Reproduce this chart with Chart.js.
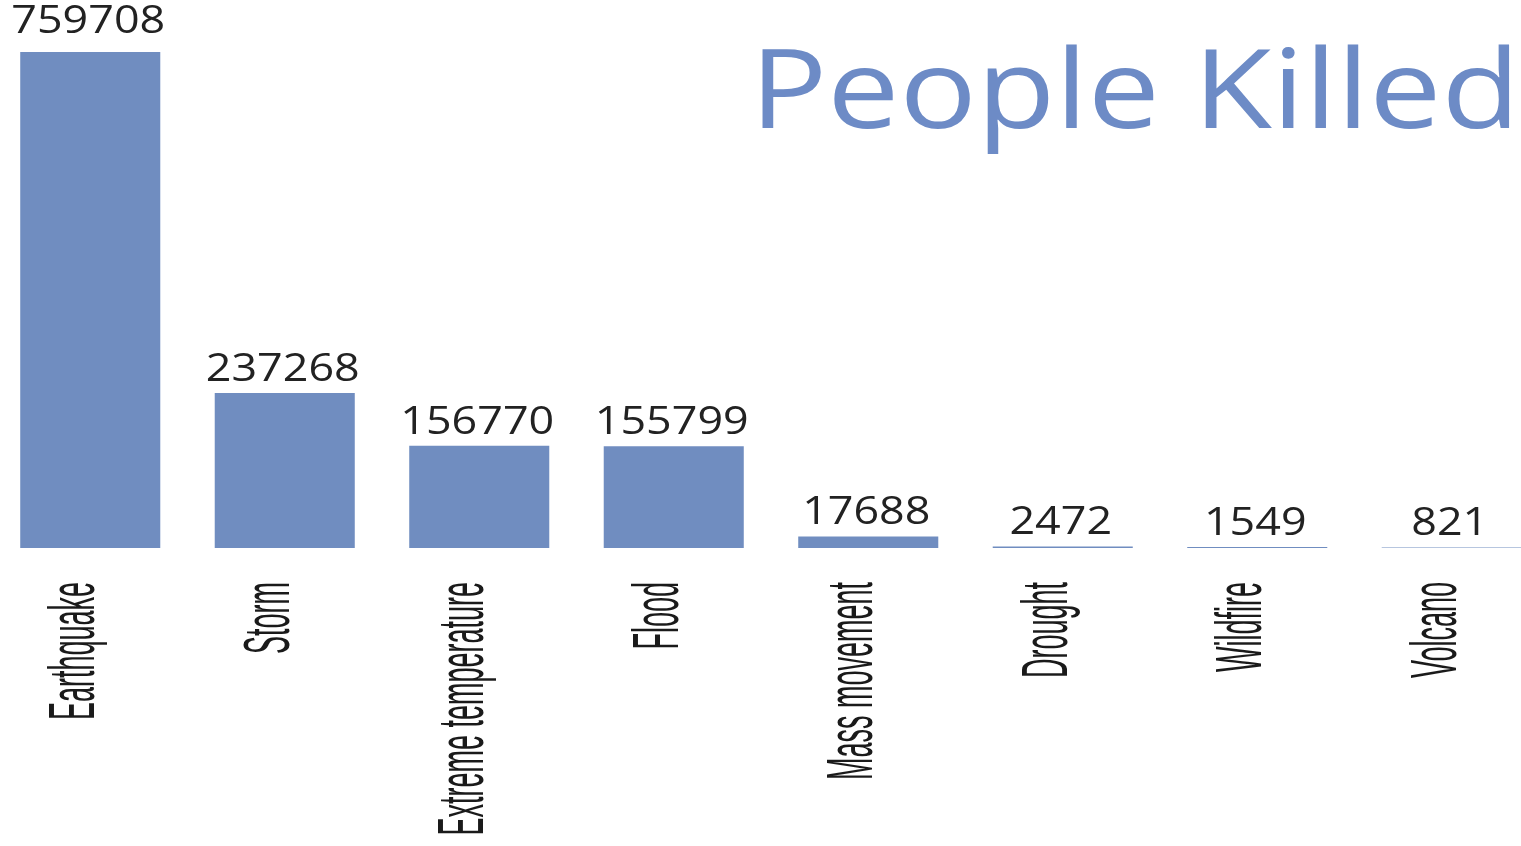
<!DOCTYPE html>
<html>
<head>
<meta charset="utf-8">
<title>People Killed</title>
<script src="https://cdn.jsdelivr.net/npm/chart.js@4.4.1/dist/chart.umd.min.js"></script>
<style>
  html, body { margin: 0; padding: 0; background: #fff; overflow: hidden; }
  /* plot runs slightly past both edges of the window */
  #wrap { position: absolute; left: -7px; top: 0; width: 1556px; height: 846px; }
</style>
</head>
<body>
<div id="wrap"><canvas id="chart"></canvas></div>
<script>
const SHIFT = 7;

const categories = ['Earthquake', 'Storm', 'Extreme temperature', 'Flood', 'Mass movement', 'Drought', 'Wildfire', 'Volcano'];
const killed = [759708, 237268, 156770, 155799, 17688, 2472, 1549, 821];

const barColor = '#708dc0';
const titleColor = '#6d8bc6';

// value labels above each bar, category names rotated under the axis, and the big title
const labelsPlugin = {
  id: 'labels',
  afterDatasetsDraw(chart) {
    const ctx = chart.ctx;
    const meta = chart.getDatasetMeta(0);
    const x = chart.scales.x;
    const base = chart.chartArea.bottom;

    ctx.save();
    ctx.fillStyle = '#222';
    ctx.font = '39px "Open Sans", sans-serif';
    ctx.textAlign = 'center';
    ctx.textBaseline = 'alphabetic';
    meta.data.forEach((bar, i) => {
      // top label sits a little higher so it stays on the canvas
      const y = i === 0 ? Math.min(bar.y - 12, 33) : bar.y - 12;
      ctx.save();
      ctx.translate(bar.x - 2, y);
      ctx.scale(1.15, 1);
      ctx.fillText(String(killed[i]), 0, 0);
      ctx.restore();
    });

    ctx.fillStyle = '#1a1a1a';
    ctx.font = '40px "Liberation Sans", Arial, sans-serif';
    ctx.textAlign = 'right';
    categories.forEach((name, i) => {
      const cx = x.getPixelForValue(i);
      ctx.save();
      ctx.translate(cx + 4, base + 34);
      ctx.rotate(-Math.PI / 2);
      ctx.scale(0.675, 1.6);
      ctx.fillText(name, 0, 0);
      ctx.restore();
    });

    ctx.fillStyle = titleColor;
    ctx.font = '500 110px "Open Sans", sans-serif';
    ctx.textAlign = 'left';
    const title = 'People Killed';
    const sx = 770 / ctx.measureText(title).width;
    ctx.save();
    ctx.translate(750 + SHIFT, 128);
    ctx.scale(sx, 1);
    ctx.fillText(title, 0, 0);
    ctx.restore();
    ctx.restore();
  }
};

new Chart(document.getElementById('chart'), {
  type: 'bar',
  data: {
    labels: categories,
    datasets: [{ data: killed, backgroundColor: barColor, borderWidth: 0, barPercentage: 0.72, categoryPercentage: 1 }]
  },
  options: {
    responsive: true,
    maintainAspectRatio: false,
    animation: false,
    events: [],
    layout: { padding: { top: 52, bottom: 298, left: 0, right: 0 } },
    plugins: { legend: { display: false }, tooltip: { enabled: false } },
    scales: {
      x: { display: false },
      y: { display: false, min: 0, max: 759708 }
    }
  },
  plugins: [labelsPlugin]
});
</script>
</body>
</html>
